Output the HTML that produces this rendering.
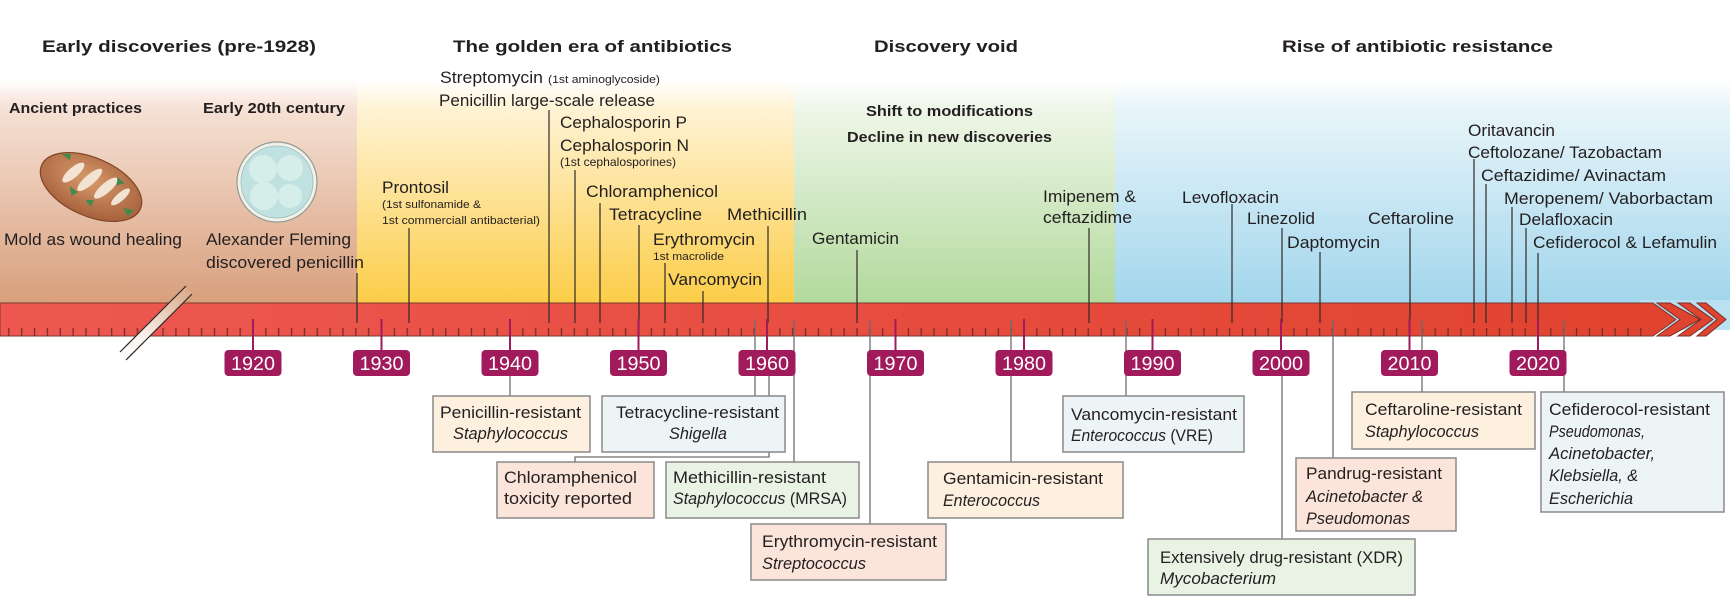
<!DOCTYPE html>
<html><head><meta charset="utf-8"><style>
html,body{margin:0;padding:0;background:#fff;}
svg{display:block;}
text{font-family:"Liberation Sans",Arial,sans-serif;fill:#231f20;}
.h{font-weight:bold;font-size:17px;}
.s{font-weight:bold;font-size:15px;}
.r{font-size:17px;}
.sm{font-size:11px;}
.b{font-size:16.5px;}
.i{font-style:italic;}
.yr{font-size:19px;fill:#fff;}
</style></head><body>
<svg width="1730" height="609" viewBox="0 0 1730 609" xmlns="http://www.w3.org/2000/svg">
<defs>
<linearGradient id="gBr" x1="0" y1="0" x2="0" y2="1"><stop offset="0" stop-color="#fff"/><stop offset="0.12" stop-color="#f6e2d6"/><stop offset="1" stop-color="#d89f7c"/></linearGradient>
<linearGradient id="gYe" x1="0" y1="0" x2="0" y2="1"><stop offset="0" stop-color="#fff"/><stop offset="0.12" stop-color="#fef3d6"/><stop offset="1" stop-color="#fccd48"/></linearGradient>
<linearGradient id="gGr" x1="0" y1="0" x2="0" y2="1"><stop offset="0" stop-color="#fff"/><stop offset="0.12" stop-color="#eff7e9"/><stop offset="1" stop-color="#b2d99c"/></linearGradient>
<linearGradient id="gBl" x1="0" y1="0" x2="0" y2="1"><stop offset="0" stop-color="#fff"/><stop offset="0.12" stop-color="#e9f5fa"/><stop offset="1" stop-color="#a2d6ec"/></linearGradient>
<linearGradient id="gBar" x1="0" y1="0" x2="1" y2="0"><stop offset="0" stop-color="#ee5851"/><stop offset="1" stop-color="#e0432f"/></linearGradient>
<linearGradient id="gCut" x1="1" y1="0" x2="0" y2="1"><stop offset="0" stop-color="#d9a482"/><stop offset="0.7" stop-color="#fbf3ee"/><stop offset="1" stop-color="#fff"/></linearGradient>
<radialGradient id="gBread" cx="0.45" cy="0.4" r="0.6"><stop offset="0" stop-color="#d79a6c"/><stop offset="1" stop-color="#a8623d"/></radialGradient>
<pattern id="tk" x="246.575" y="328" width="12.85" height="8" patternUnits="userSpaceOnUse"><rect x="5.8" y="0" width="1.3" height="8" fill="#7a2a26"/></pattern>
</defs>
<rect width="1730" height="609" fill="#fff"/>
<!-- bands -->
<rect x="0" y="80" width="357" height="223" fill="url(#gBr)"/>
<rect x="357" y="80" width="437" height="223" fill="url(#gYe)"/>
<rect x="794" y="80" width="321" height="223" fill="url(#gGr)"/>
<rect x="1115" y="80" width="615" height="223" fill="url(#gBl)"/>
<rect x="1640" y="300" width="90" height="30" fill="#b9e1f1"/>

<!-- headings -->
<text class="h" x="42" y="52" textLength="274" lengthAdjust="spacingAndGlyphs">Early discoveries (pre-1928)</text>
<text class="h" x="453" y="52" textLength="279" lengthAdjust="spacingAndGlyphs">The golden era of antibiotics</text>
<text class="h" x="874" y="52" textLength="144" lengthAdjust="spacingAndGlyphs">Discovery void</text>
<text class="h" x="1282" y="52" textLength="271" lengthAdjust="spacingAndGlyphs">Rise of antibiotic resistance</text>

<text class="s" x="9" y="113" textLength="133" lengthAdjust="spacingAndGlyphs">Ancient practices</text>
<text class="s" x="203" y="113" textLength="142" lengthAdjust="spacingAndGlyphs">Early 20th century</text>
<text class="s" x="866" y="116" textLength="167" lengthAdjust="spacingAndGlyphs">Shift to modifications</text>
<text class="s" x="847" y="142" textLength="205" lengthAdjust="spacingAndGlyphs">Decline in new discoveries</text>

<!-- bread -->
<g transform="translate(91,187) rotate(24)">
<ellipse rx="54" ry="29" fill="url(#gBread)" stroke="#7d4529" stroke-width="1.2"/>
<ellipse cx="-22" cy="-6" rx="5" ry="14" fill="#f3e3d3" transform="rotate(25 -22 -6)"/>
<ellipse cx="-4" cy="-6" rx="5" ry="16" fill="#f3e3d3" transform="rotate(25 -4 -6)"/>
<ellipse cx="14" cy="-5" rx="5" ry="15" fill="#f3e3d3" transform="rotate(25 14 -5)"/>
<ellipse cx="31" cy="-3" rx="4" ry="12" fill="#f3e3d3" transform="rotate(25 31 -3)"/>
<path d="M-40,-18 l8,-4 l2,6 z" fill="#3f8a4e"/>
<path d="M-20,8 l10,2 l-4,6 z" fill="#3f8a4e"/>
<path d="M20,-20 l9,3 l-6,5 z" fill="#3f8a4e"/>
<path d="M38,6 l10,-2 l-2,8 z" fill="#3f8a4e"/>
<path d="M0,14 l8,-3 l0,7 z" fill="#3f8a4e"/>
</g>
<!-- petri dish -->
<circle cx="277" cy="182" r="40" fill="#f1f1ea" stroke="#8f9a92" stroke-width="1.2"/>
<circle cx="277" cy="182" r="36" fill="#bfe2e1" stroke="#9fbdbb" stroke-width="0.8"/>
<circle cx="263" cy="169" r="14" fill="#d6eeea"/>
<circle cx="290" cy="168" r="13" fill="#d6eeea"/>
<circle cx="264" cy="196" r="14" fill="#d6eeea"/>
<circle cx="290" cy="196" r="12" fill="#d6eeea"/>

<text class="r" x="4" y="245" textLength="178" lengthAdjust="spacingAndGlyphs">Mold as wound healing</text>
<text class="r" x="206" y="245" textLength="145" lengthAdjust="spacingAndGlyphs">Alexander Fleming</text>
<text class="r" x="206" y="268" textLength="158" lengthAdjust="spacingAndGlyphs">discovered penicillin</text>

<!-- drug labels above -->
<text class="r" x="382" y="193" textLength="67" lengthAdjust="spacingAndGlyphs">Prontosil</text>
<text class="sm" x="382" y="208" textLength="99" lengthAdjust="spacingAndGlyphs">(1st sulfonamide &amp;</text>
<text class="sm" x="382" y="224" textLength="158" lengthAdjust="spacingAndGlyphs">1st commerciall antibacterial)</text>
<text class="r" x="440" y="83" textLength="103" lengthAdjust="spacingAndGlyphs">Streptomycin</text>
<text class="sm" x="548" y="83" textLength="112" lengthAdjust="spacingAndGlyphs">(1st aminoglycoside)</text>
<text class="r" x="439" y="106" textLength="216" lengthAdjust="spacingAndGlyphs">Penicillin large-scale release</text>
<text class="r" x="560" y="128" textLength="127" lengthAdjust="spacingAndGlyphs">Cephalosporin P</text>
<text class="r" x="560" y="151" textLength="129" lengthAdjust="spacingAndGlyphs">Cephalosporin N</text>
<text class="sm" x="560" y="166" textLength="116" lengthAdjust="spacingAndGlyphs" style="font-size:12px">(1st cephalosporines)</text>
<text class="r" x="586" y="197" textLength="132" lengthAdjust="spacingAndGlyphs">Chloramphenicol</text>
<text class="r" x="609" y="220" textLength="93" lengthAdjust="spacingAndGlyphs">Tetracycline</text>
<text class="r" x="727" y="220" textLength="80" lengthAdjust="spacingAndGlyphs">Methicillin</text>
<text class="r" x="653" y="245" textLength="102" lengthAdjust="spacingAndGlyphs">Erythromycin</text>
<text class="sm" x="653" y="260" textLength="71" lengthAdjust="spacingAndGlyphs">1st macrolide</text>
<text class="r" x="668" y="285" textLength="94" lengthAdjust="spacingAndGlyphs">Vancomycin</text>
<text class="r" x="812" y="244" textLength="87" lengthAdjust="spacingAndGlyphs">Gentamicin</text>
<text class="r" x="1043" y="202" textLength="93" lengthAdjust="spacingAndGlyphs">Imipenem &amp;</text>
<text class="r" x="1043" y="223" textLength="89" lengthAdjust="spacingAndGlyphs">ceftazidime</text>
<text class="r" x="1182" y="203" textLength="97" lengthAdjust="spacingAndGlyphs">Levofloxacin</text>
<text class="r" x="1247" y="224" textLength="68" lengthAdjust="spacingAndGlyphs">Linezolid</text>
<text class="r" x="1287" y="248" textLength="93" lengthAdjust="spacingAndGlyphs">Daptomycin</text>
<text class="r" x="1368" y="224" textLength="86" lengthAdjust="spacingAndGlyphs">Ceftaroline</text>
<text class="r" x="1468" y="136" textLength="87" lengthAdjust="spacingAndGlyphs">Oritavancin</text>
<text class="r" x="1468" y="158" textLength="194" lengthAdjust="spacingAndGlyphs">Ceftolozane/ Tazobactam</text>
<text class="r" x="1481" y="181" textLength="185" lengthAdjust="spacingAndGlyphs">Ceftazidime/ Avinactam</text>
<text class="r" x="1504" y="204" textLength="209" lengthAdjust="spacingAndGlyphs">Meropenem/ Vaborbactam</text>
<text class="r" x="1519" y="225" textLength="94" lengthAdjust="spacingAndGlyphs">Delafloxacin</text>
<text class="r" x="1533" y="248" textLength="184" lengthAdjust="spacingAndGlyphs">Cefiderocol &amp; Lefamulin</text>

<!-- bar -->
<polygon points="0,303 1653,303 1676,319.5 1653,336 0,336" fill="url(#gBar)" stroke="#7a3a30" stroke-width="1"/>
<polygon points="1657,303 1670,303 1700,319.5 1670,336 1657,336 1680,319.5" fill="#df4430" stroke="#7a3028" stroke-width="1"/>
<polygon points="1678,303 1690,303 1713,319.5 1690,336 1678,336 1701,319.5" fill="#df4430" stroke="#7a3028" stroke-width="1"/>
<polygon points="1697,303 1706,303 1726,319.5 1706,336 1697,336 1717,319.5" fill="#df4430" stroke="#7a3028" stroke-width="1"/>
<rect x="5" y="328" width="1645" height="8" fill="url(#tk)"/>

<!-- break mark -->
<polygon points="185,287 193,293 127,359 119,353" fill="url(#gCut)"/>
<line x1="186" y1="286" x2="120" y2="352" stroke="#2e2a28" stroke-width="1.2"/>
<line x1="192" y1="294" x2="126" y2="360" stroke="#2e2a28" stroke-width="1.2"/>

<!-- connector lines above -->
<g stroke="#2e2a28" stroke-width="1.2">
<line x1="357" y1="273" x2="357" y2="323"/>
<line x1="409" y1="228" x2="409" y2="323"/>
<line x1="549" y1="110" x2="549" y2="323"/>
<line x1="575" y1="170" x2="575" y2="323"/>
<line x1="600" y1="203" x2="600" y2="323"/>
<line x1="639" y1="225" x2="639" y2="323"/>
<line x1="768" y1="226" x2="768" y2="323"/>
<line x1="665" y1="263" x2="665" y2="323"/>
<line x1="703" y1="291" x2="703" y2="323"/>
<line x1="857" y1="250" x2="857" y2="323"/>
<line x1="1089" y1="228" x2="1089" y2="323"/>
<line x1="1232" y1="204" x2="1232" y2="323"/>
<line x1="1282" y1="228" x2="1282" y2="323"/>
<line x1="1320" y1="252" x2="1320" y2="323"/>
<line x1="1410" y1="228" x2="1410" y2="323"/>
<line x1="1474" y1="159" x2="1474" y2="323"/>
<line x1="1486" y1="184" x2="1486" y2="323"/>
<line x1="1512" y1="207" x2="1512" y2="323"/>
<line x1="1526" y1="228" x2="1526" y2="323"/>
<line x1="1538" y1="253" x2="1538" y2="323"/>
</g>

<!-- connector lines below -->
<g stroke="#6e6e6e" stroke-width="1.3" fill="none">
<line x1="510" y1="376" x2="510" y2="396"/>
<line x1="755" y1="320" x2="755" y2="396"/>
<polyline points="769,376 769,457 575,457 575,462"/>
<line x1="794" y1="320" x2="794" y2="462"/>
<line x1="870" y1="320" x2="870" y2="524"/>
<line x1="1011" y1="320" x2="1011" y2="462"/>
<line x1="1126" y1="320" x2="1126" y2="396"/>
<line x1="1282" y1="376" x2="1282" y2="539"/>
<line x1="1333" y1="320" x2="1333" y2="458"/>
<line x1="1422" y1="320" x2="1422" y2="392"/>
<line x1="1564" y1="320" x2="1564" y2="392"/>
</g>

<!-- year labels -->
<g fill="#a01a5c">
<rect x="252" y="319" width="2" height="32"/><rect x="224.5" y="350" width="57" height="26" rx="4"/>
<rect x="380.5" y="319" width="2" height="32"/><rect x="353" y="350" width="57" height="26" rx="4"/>
<rect x="509" y="319" width="2" height="32"/><rect x="481.5" y="350" width="57" height="26" rx="4"/>
<rect x="637.5" y="319" width="2" height="32"/><rect x="610" y="350" width="57" height="26" rx="4"/>
<rect x="766" y="319" width="2" height="32"/><rect x="738.5" y="350" width="57" height="26" rx="4"/>
<rect x="894.5" y="319" width="2" height="32"/><rect x="867" y="350" width="57" height="26" rx="4"/>
<rect x="1023" y="319" width="2" height="32"/><rect x="995.5" y="350" width="57" height="26" rx="4"/>
<rect x="1151.5" y="319" width="2" height="32"/><rect x="1124" y="350" width="57" height="26" rx="4"/>
<rect x="1280" y="319" width="2" height="32"/><rect x="1252.5" y="350" width="57" height="26" rx="4"/>
<rect x="1408.5" y="319" width="2" height="32"/><rect x="1381" y="350" width="57" height="26" rx="4"/>
<rect x="1537" y="319" width="2" height="32"/><rect x="1509.5" y="350" width="57" height="26" rx="4"/>
</g>
<g text-anchor="middle">
<text class="yr" x="253" y="370" textLength="44" lengthAdjust="spacingAndGlyphs">1920</text>
<text class="yr" x="381.5" y="370" textLength="44" lengthAdjust="spacingAndGlyphs">1930</text>
<text class="yr" x="510" y="370" textLength="44" lengthAdjust="spacingAndGlyphs">1940</text>
<text class="yr" x="638.5" y="370" textLength="44" lengthAdjust="spacingAndGlyphs">1950</text>
<text class="yr" x="767" y="370" textLength="44" lengthAdjust="spacingAndGlyphs">1960</text>
<text class="yr" x="895.5" y="370" textLength="44" lengthAdjust="spacingAndGlyphs">1970</text>
<text class="yr" x="1024" y="370" textLength="44" lengthAdjust="spacingAndGlyphs">1980</text>
<text class="yr" x="1152.5" y="370" textLength="44" lengthAdjust="spacingAndGlyphs">1990</text>
<text class="yr" x="1281" y="370" textLength="44" lengthAdjust="spacingAndGlyphs">2000</text>
<text class="yr" x="1409.5" y="370" textLength="44" lengthAdjust="spacingAndGlyphs">2010</text>
<text class="yr" x="1538" y="370" textLength="44" lengthAdjust="spacingAndGlyphs">2020</text>
</g>

<!-- boxes -->
<g stroke="#8a8a8a" stroke-width="1.5">
<rect x="433" y="396" width="157" height="56" fill="#fdf0df"/>
<rect x="602" y="396" width="183" height="56" fill="#edf4f6"/>
<rect x="497" y="462" width="157" height="56" fill="#fbe4da"/>
<rect x="666" y="462" width="193" height="56" fill="#e8f3e4"/>
<rect x="751" y="524" width="195" height="56" fill="#fbe4da"/>
<rect x="928" y="462" width="195" height="56" fill="#fdf0df"/>
<rect x="1063" y="396" width="181" height="56" fill="#edf4f6"/>
<rect x="1148" y="539" width="267" height="56" fill="#e8f3e4"/>
<rect x="1296" y="458" width="160" height="73" fill="#fbe4da"/>
<rect x="1352" y="392" width="183" height="57" fill="#fdf0df"/>
<rect x="1541" y="392" width="183" height="120" fill="#edf4f6"/>
</g>

<text class="b" x="440" y="418" textLength="141" lengthAdjust="spacingAndGlyphs">Penicillin-resistant</text>
<text class="b i" x="453" y="439" textLength="115" lengthAdjust="spacingAndGlyphs">Staphylococcus</text>
<text class="b" x="616" y="418" textLength="163" lengthAdjust="spacingAndGlyphs">Tetracycline-resistant</text>
<text class="b i" x="669" y="439" textLength="58" lengthAdjust="spacingAndGlyphs">Shigella</text>
<text class="b" x="504" y="483" textLength="133" lengthAdjust="spacingAndGlyphs">Chloramphenicol</text>
<text class="b" x="504" y="504" textLength="128" lengthAdjust="spacingAndGlyphs">toxicity reported</text>
<text class="b" x="673" y="483" textLength="153" lengthAdjust="spacingAndGlyphs">Methicillin-resistant</text>
<text class="b" x="673" y="504" textLength="174" lengthAdjust="spacingAndGlyphs"><tspan class="i">Staphylococcus</tspan> (MRSA)</text>
<text class="b" x="762" y="547" textLength="175" lengthAdjust="spacingAndGlyphs">Erythromycin-resistant</text>
<text class="b i" x="762" y="569" textLength="104" lengthAdjust="spacingAndGlyphs">Streptococcus</text>
<text class="b" x="943" y="484" textLength="160" lengthAdjust="spacingAndGlyphs">Gentamicin-resistant</text>
<text class="b i" x="943" y="506" textLength="97" lengthAdjust="spacingAndGlyphs">Enterococcus</text>
<text class="b" x="1071" y="420" textLength="166" lengthAdjust="spacingAndGlyphs">Vancomycin-resistant</text>
<text class="b" x="1071" y="441" textLength="142" lengthAdjust="spacingAndGlyphs"><tspan class="i">Enterococcus</tspan> (VRE)</text>
<text class="b" x="1160" y="563" textLength="243" lengthAdjust="spacingAndGlyphs">Extensively drug-resistant (XDR)</text>
<text class="b i" x="1160" y="584" textLength="116" lengthAdjust="spacingAndGlyphs">Mycobacterium</text>
<text class="b" x="1306" y="479" textLength="136" lengthAdjust="spacingAndGlyphs">Pandrug-resistant</text>
<text class="b i" x="1306" y="502" textLength="117" lengthAdjust="spacingAndGlyphs">Acinetobacter &amp;</text>
<text class="b i" x="1306" y="524" textLength="104" lengthAdjust="spacingAndGlyphs">Pseudomonas</text>
<text class="b" x="1365" y="415" textLength="157" lengthAdjust="spacingAndGlyphs">Ceftaroline-resistant</text>
<text class="b i" x="1365" y="437" textLength="114" lengthAdjust="spacingAndGlyphs">Staphylococcus</text>
<text class="b" x="1549" y="415" textLength="161" lengthAdjust="spacingAndGlyphs">Cefiderocol-resistant</text>
<text class="b i" x="1549" y="437" textLength="96" lengthAdjust="spacingAndGlyphs">Pseudomonas,</text>
<text class="b i" x="1549" y="459" textLength="106" lengthAdjust="spacingAndGlyphs">Acinetobacter,</text>
<text class="b i" x="1549" y="481" textLength="89" lengthAdjust="spacingAndGlyphs">Klebsiella, &amp;</text>
<text class="b i" x="1549" y="504" textLength="84" lengthAdjust="spacingAndGlyphs">Escherichia</text>
</svg>
</body></html>
